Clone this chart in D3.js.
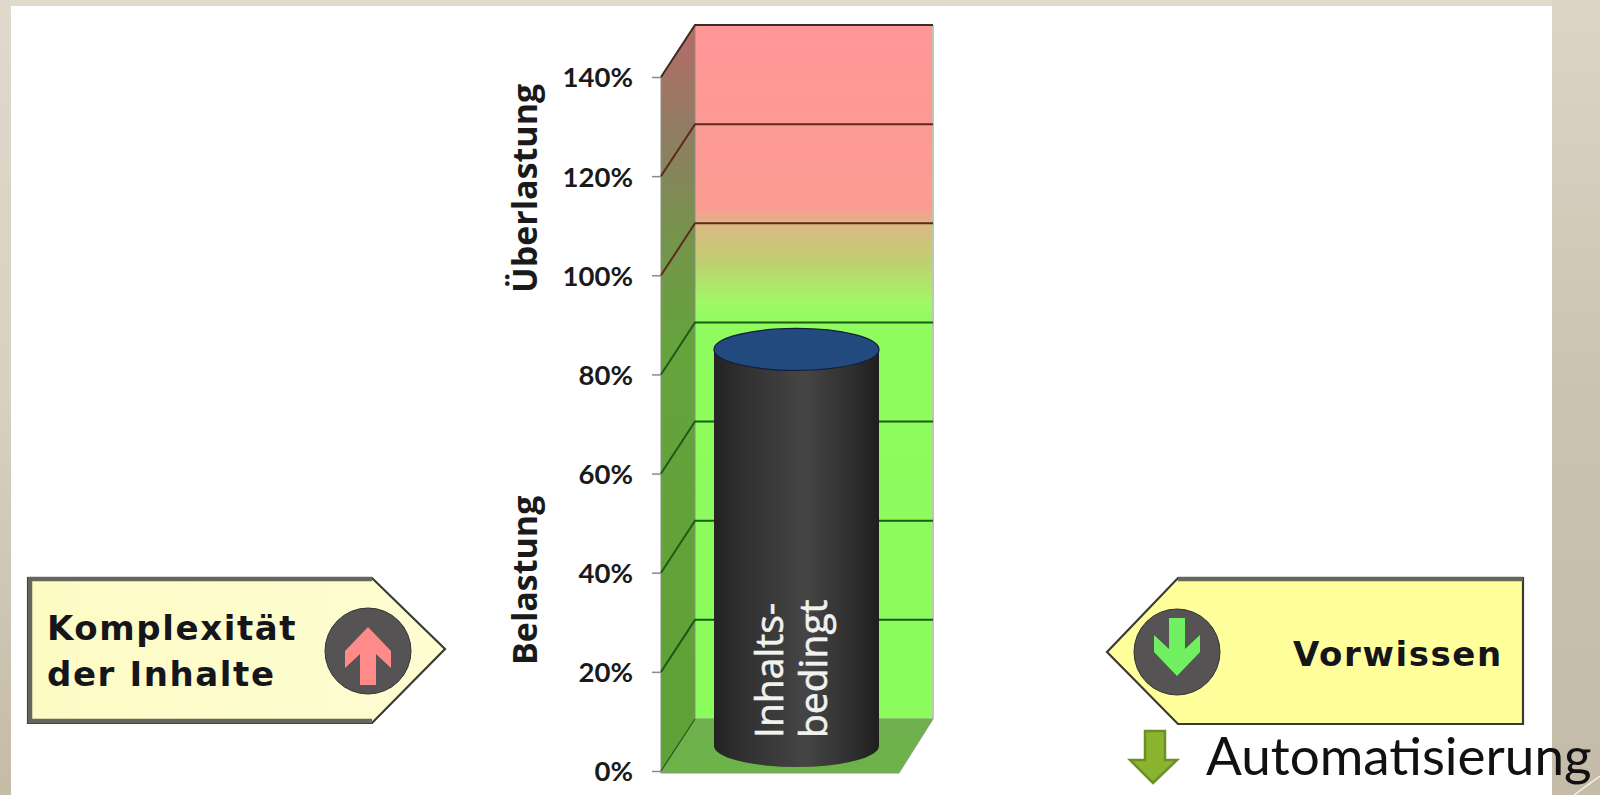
<!DOCTYPE html>
<html><head><meta charset="utf-8">
<script src="https://cdn.jsdelivr.net/npm/d3@7"></script>
<style>
html,body{margin:0;padding:0;background:#fff;overflow:hidden}
svg{display:block}
</style></head><body>
<svg id="chart" width="1600" height="795"></svg>
<script>
// Stacked load column
const categories = ["Inhalts-bedingt"];
const categoryLines = ["Inhalts-", "bedingt"];
const loadValues = [80];
const axisTicks = [0, 20, 40, 60, 80, 100, 120, 140];
const zoneLabels = ["Überlastung", "Belastung"];
const leftCallout = ["Komplexität", "der Inhalte"];
const rightCallout = ["Vorwissen"];
const footnote = ["Automatisierung"];

const svg = d3.select("#chart");
const defs = svg.append("defs");

function gradient(id, stops, x2, y2) {
  const g = defs.append("linearGradient").attr("id", id)
    .attr("x1", 0).attr("y1", 0).attr("x2", x2).attr("y2", y2);
  stops.forEach(([o, c]) => g.append("stop").attr("offset", o).attr("stop-color", c));
}

const y = d3.scaleLinear().domain([0, 140]).range([719, 25]);
const wallLeft = 695, wallRight = 933;
const depthX = -34, depthY = 52;
const barX = 796.5, barRx = 82.5, barRy = 21, midDepthY = 27;

const rel = v => (y(v) - y(140)) / (y(0) - y(140));

// Slide backdrop
gradient("bgLeft", [[0, "#e0d9cc"], [0.5, "#d8d0c0"], [1, "#c4bca8"]], 0, 1);
gradient("bgRight", [[0, "#dcd5c7"], [0.5, "#cbc3b0"], [1, "#c4bca8"]], 0, 1);
svg.append("rect").attr("width", 1600).attr("height", 795).attr("fill", "#e0d9cc");
svg.append("rect").attr("width", 11).attr("height", 795).attr("fill", "url(#bgLeft)");
svg.append("rect").attr("x", 1552).attr("width", 48).attr("height", 795).attr("fill", "url(#bgRight)");
svg.append("rect").attr("x", 11).attr("y", 6).attr("width", 1541).attr("height", 789).attr("fill", "#fff");
svg.append("line").attr("x1", 1574).attr("y1", 795).attr("x2", 1600).attr("y2", 776)
  .attr("stroke", "#f4f1ea").attr("stroke-width", 1.5);

// Back wall and side wall colours follow the value scale
gradient("backWall", [
  [0, "#ff9797"], [rel(103), "#fb9c92"], [rel(100), "#dcb784"],
  [rel(92), "#c0d070"], [rel(84), "#a0f866"], [rel(80), "#8ffb5e"], [1, "#8cfb5c"]
], 0, 1);
gradient("sideWall", [
  [0, "#b86a68"], [rel(120), "#8f7d62"], [rel(100), "#75944c"], [rel(80), "#65a33c"], [1, "#5fa136"]
], 0, 1);
gradient("barBody", [[0, "#232323"], [0.18, "#303030"], [0.55, "#454545"], [0.85, "#2e2e2e"], [1, "#1e1e1e"]], 1, 0);
gradient("leftBox", [[0, "#fdfbc4"], [1, "#fdfdd2"]], 1, 0);
gradient("floor", [[0, "#6fb04e"], [1, "#6cb348"]], 0, 1);

const plot = svg.append("g");
plot.append("polygon").attr("fill", "url(#backWall)")
  .attr("points", [[wallLeft, y(140)], [wallRight, y(140)], [wallRight, y(0)], [wallLeft, y(0)]].join(" "));
plot.append("polygon").attr("fill", "url(#sideWall)").attr("stroke", "#8a8f84").attr("stroke-width", 1)
  .attr("points", [[wallLeft, y(140)], [wallLeft + depthX, y(140) + depthY], [wallLeft + depthX, y(0) + depthY + 2], [wallLeft, y(0)]].join(" "));
plot.append("polygon").attr("fill", "url(#floor)").attr("stroke", "#8a9a80").attr("stroke-width", 1)
  .attr("points", [[wallLeft, y(0)], [wallRight, y(0)], [wallRight + depthX, y(0) + depthY + 2], [wallLeft + depthX, y(0) + depthY + 2]].join(" "));
plot.append("line").attr("x1", wallRight).attr("x2", wallRight).attr("y1", y(140)).attr("y2", y(0))
  .attr("stroke", "#b9c9ae").attr("stroke-width", 2);

// Gridlines wrap from the side wall onto the back wall
const gridColor = d => d === 140 ? "#3f2a26" : d >= 100 ? "#5e2a20" : "#1c5c12";
plot.selectAll("path.grid").data(axisTicks).join("path").attr("class", "grid")
  .attr("fill", "none")
  .attr("stroke", gridColor)
  .attr("stroke-width", d => d === 0 ? 1.2 : 2)
  .attr("d", d => d3.line()([[wallLeft + depthX, y(d) + depthY], [wallLeft, y(d)], [d === 0 ? wallLeft : wallRight, y(d)]]));

// Value axis on the front edge of the side wall
const axis = d3.axisLeft(d3.scaleLinear().domain(y.domain()).range(y.range().map(r => r + depthY)))
  .tickValues(axisTicks).tickSize(9).tickPadding(19).tickFormat(d => d + "%");
const axisG = svg.append("g").attr("transform", `translate(${wallLeft + depthX},0)`).call(axis);
axisG.select(".domain").remove();
axisG.selectAll(".tick line").attr("stroke", "#8a8a8a").attr("stroke-width", 1.5);
axisG.selectAll(".tick text").attr("font-family", "Lato, sans-serif").attr("font-weight", 700)
  .attr("font-size", 27.5).attr("fill", "#1a1a1a").attr("dy", "0.36em");

// Zone captions beside the axis
const zoneSpecs = [{t: zoneLabels[0], off: 293}, {t: zoneLabels[1], off: 665}];
svg.selectAll("text.zone").data(zoneSpecs).join("text").attr("class", "zone")
  .attr("transform", d => `translate(537,${d.off}) rotate(-90)`)
  .attr("font-family", "'Open Sans', sans-serif").attr("font-weight", 700)
  .attr("font-size", 34).attr("fill", "#1a1a1a").text(d => d.t);

// Cylinder drawn from the load value
const barG = svg.selectAll("g.bar").data(loadValues).join("g").attr("class", "bar");
barG.each(function (v) {
  const g = d3.select(this);
  const top = y(v) + midDepthY, base = y(0) + midDepthY;
  const d = `M${barX - barRx},${top}L${barX - barRx},${base}A${barRx},${barRy} 0 0 0 ${barX + barRx},${base}L${barX + barRx},${top}Z`;
  g.append("path").attr("d", d).attr("fill", "url(#barBody)");
  g.append("ellipse").attr("cx", barX).attr("cy", top).attr("rx", barRx).attr("ry", barRy)
    .attr("fill", "#234a7e").attr("stroke", "#10203a").attr("stroke-width", 1.2);
});
svg.selectAll("text.cat").data(categoryLines).join("text").attr("class", "cat")
  .attr("transform", (d, i) => `translate(${783 + i * 44},738) rotate(-90)`)
  .attr("font-family", "'Open Sans', sans-serif").attr("font-weight", 500)
  .attr("font-size", 39).attr("fill", "#f1f1ee")
  .attr("stroke", "#f1f1ee").attr("stroke-width", 0.6).text(d => d);

// Callouts: a thin dark outline with heavier bevelled edges on top of it
function callout(points, fill, bevels, cx, cy, arrowFill, dir) {
  const g = svg.append("g");
  g.append("polygon").attr("points", points.join(" ")).attr("fill", fill)
    .attr("stroke", "#3a3a34").attr("stroke-width", 2.2).attr("stroke-linejoin", "miter");
  bevels.forEach(b => g.append("polyline").attr("points", b.join(" ")).attr("fill", "none")
    .attr("stroke", "#66665c").attr("stroke-width", 4.5));
  g.append("circle").attr("cx", cx).attr("cy", cy).attr("r", 43).attr("fill", "#555353").attr("stroke", "#333").attr("stroke-width", 1);
  const arrow = [[0, -24], [23, 0], [23, 17], [8, 3], [8, 34], [-8, 34], [-8, 3], [-23, 17], [-23, 0]]
    .map(([a, b]) => [cx + a, cy + b * dir]);
  g.append("polygon").attr("points", arrow.join(" ")).attr("fill", arrowFill);
  return g;
}
const calloutFont = sel => sel.attr("font-family", "'DejaVu Sans', sans-serif").attr("font-weight", 700)
  .attr("font-size", 34).attr("letter-spacing", 1.6).attr("fill", "#15151c");
const lg = callout([[28, 578], [372, 578], [445, 649], [372, 723], [28, 723]], "url(#leftBox)",
  [[[372, 579], [30, 579], [30, 721], [372, 721]]], 368, 651, "#ff8a8a", 1);
lg.selectAll("text").data(leftCallout).join("text")
  .attr("x", 47).attr("y", (d, i) => 640 + i * 46).call(calloutFont).text(d => d);
const rg = callout([[1107, 652], [1178, 578], [1523, 578], [1523, 724], [1178, 724]], "#ffff9c",
  [[[1178, 579], [1523, 579]]], 1177, 652, "#70f060", -1);
rg.selectAll("text").data(rightCallout).join("text")
  .attr("x", 1293).attr("y", 666).call(calloutFont).text(d => d);

// Bulleted note with a down arrow
const bullet = [[1145, 731], [1165, 731], [1165, 760], [1177, 760], [1153, 783], [1130, 760], [1145, 760]];
svg.append("polygon").attr("points", bullet.join(" ")).attr("fill", "#8ab42f").attr("stroke", "#6c9024").attr("stroke-width", 2.5);
svg.selectAll("text.note").data(footnote).join("text").attr("class", "note")
  .attr("x", 1206).attr("y", 775).attr("font-family", "Lato, sans-serif")
  .attr("font-size", 53).attr("fill", "#111").text(d => d);
</script>
</body></html>
